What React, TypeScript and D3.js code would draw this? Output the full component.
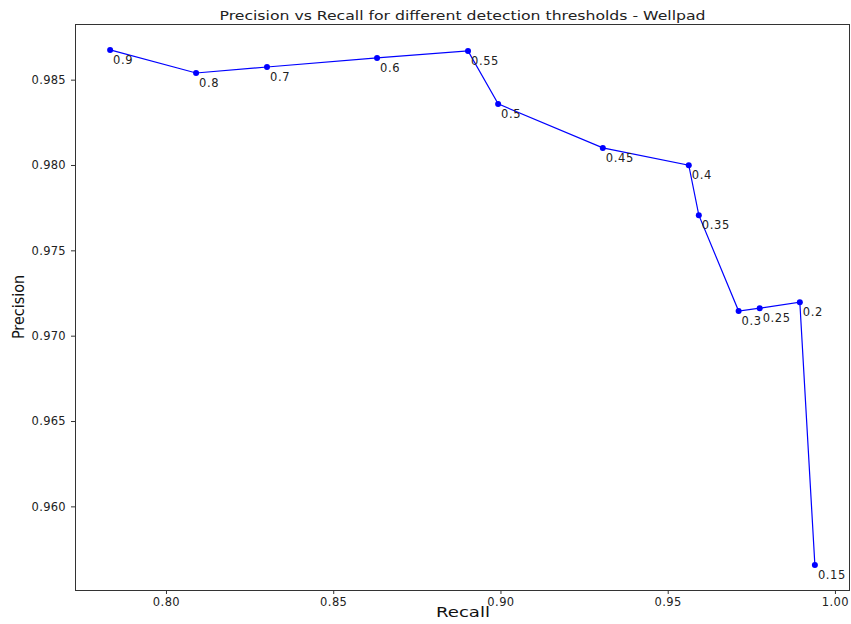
import * as d3 from 'd3'
import { useEffect, useRef } from 'react'

// thresholds and the precision / recall read at each one
const thresholds = ['0.9', '0.8', '0.7', '0.6', '0.55', '0.5', '0.45', '0.4', '0.35', '0.3', '0.25', '0.2', '0.15']
const recall = [0.7833, 0.809, 0.8302, 0.8631, 0.8903, 0.8993, 0.9306, 0.9563, 0.9593, 0.9712, 0.9775, 0.9895, 0.994]
const precision = [0.98674, 0.98539, 0.98574, 0.98627, 0.98668, 0.98358, 0.981, 0.97999, 0.97706, 0.97144, 0.97161, 0.97196, 0.95656]
const xTicks = [0.8, 0.85, 0.9, 0.95, 1.0]
const yTicks = [0.96, 0.965, 0.97, 0.975, 0.98, 0.985]

const W = 851
const H = 624
const margin = { left: 75, right: 1, top: 24, bottom: 34 }

const App = () => {
  const svgRef = useRef<SVGSVGElement>(null)

  useEffect(() => {
    const svg = d3.select(svgRef.current)
    svg.selectAll('*').remove()

    const x = d3.scaleLinear().domain([0.7728, 1.0045]).range([margin.left, W - margin.right])
    const y = d3.scaleLinear().domain([0.9551, 0.98826]).range([H - margin.bottom, margin.top])

    const axisColor = '#333'
    const font = 'DejaVu Sans, sans-serif'

    // frame
    svg
      .append('rect')
      .attr('x', margin.left + 0.5)
      .attr('y', margin.top + 0.5)
      .attr('width', W - margin.right - margin.left - 1)
      .attr('height', H - margin.bottom - margin.top)
      .attr('fill', 'none')
      .attr('stroke', axisColor)
      .attr('stroke-width', 1)

    // x axis
    const xAxisG = svg.append('g').attr('transform', `translate(0, ${H - margin.bottom})`)
    d3.axisBottom(x)
      .tickValues(xTicks)
      .tickFormat(d3.format('.2f'))
      .tickSizeOuter(0)
      .tickSizeInner(4)
      .tickPadding(4)(xAxisG)
    xAxisG.select('.domain').remove()
    xAxisG.selectAll('line').attr('stroke', axisColor)
    xAxisG
      .selectAll('text')
      .attr('fill', '#222')
      .style('font-size', '11.5px')
      .style('letter-spacing', '0.4px')
      .style('font-family', font)

    // y axis
    const yAxisG = svg.append('g').attr('transform', `translate(${margin.left}, 0)`)
    d3.axisLeft(y)
      .tickValues(yTicks)
      .tickFormat(d3.format('.3f'))
      .tickSizeOuter(0)
      .tickSizeInner(4)
      .tickPadding(5)(yAxisG)
    yAxisG.select('.domain').remove()
    yAxisG.selectAll('line').attr('stroke', axisColor)
    yAxisG
      .selectAll('text')
      .attr('fill', '#222')
      .style('font-size', '11.5px')
      .style('letter-spacing', '0.3px')
      .style('font-family', font)

    // title and axis labels
    svg
      .append('text')
      .attr('x', (margin.left + W - margin.right) / 2)
      .attr('y', 20)
      .attr('text-anchor', 'middle')
      .attr('textLength', 486)
      .attr('lengthAdjust', 'spacingAndGlyphs')
      .style('font-family', font)
      .style('font-size', '13px')
      .attr('fill', '#222')
      .text('Precision vs Recall for different detection thresholds - Wellpad')
    svg
      .append('text')
      .attr('x', 463)
      .attr('y', 617)
      .attr('text-anchor', 'middle')
      .attr('textLength', 54)
      .attr('lengthAdjust', 'spacingAndGlyphs')
      .style('font-family', font)
      .style('font-size', '14.5px')
      .attr('fill', '#111')
      .text('Recall')
    svg
      .append('text')
      .attr('transform', `translate(24, ${(margin.top + H - margin.bottom) / 2}) rotate(-90)`)
      .attr('text-anchor', 'middle')
      .style('font-family', 'DejaVu Sans Condensed, DejaVu Sans, sans-serif')
      .style('font-size', '16px')
      .attr('fill', '#111')
      .text('Precision')

    const pts = recall.map((r, i) => [r, precision[i]] as [number, number])

    const line = d3
      .line<[number, number]>()
      .x((d) => x(d[0]))
      .y((d) => y(d[1]))
    svg.append('path').attr('d', line(pts)).attr('fill', 'none').attr('stroke', '#0000ff').attr('stroke-width', 1.2)

    svg
      .append('g')
      .selectAll('circle')
      .data(pts)
      .join('circle')
      .attr('cx', (d) => x(d[0]))
      .attr('cy', (d) => y(d[1]))
      .attr('r', 3)
      .attr('fill', '#0000ff')

    svg
      .append('g')
      .selectAll('text')
      .data(pts)
      .join('text')
      .attr('x', (d) => x(d[0]) + 3)
      .attr('y', (d) => y(d[1]) + 14)
      .style('font-family', font)
      .style('font-size', '11.5px')
      .style('letter-spacing', '0.6px')
      .attr('fill', '#222')
      .text((d, i) => thresholds[i])
  }, [])

  return (
    <svg
      ref={svgRef}
      width={W}
      height={H}
      style={{ position: 'absolute', left: 0, top: 0, display: 'block', background: '#fff' }}
    ></svg>
  )
}

export default App
